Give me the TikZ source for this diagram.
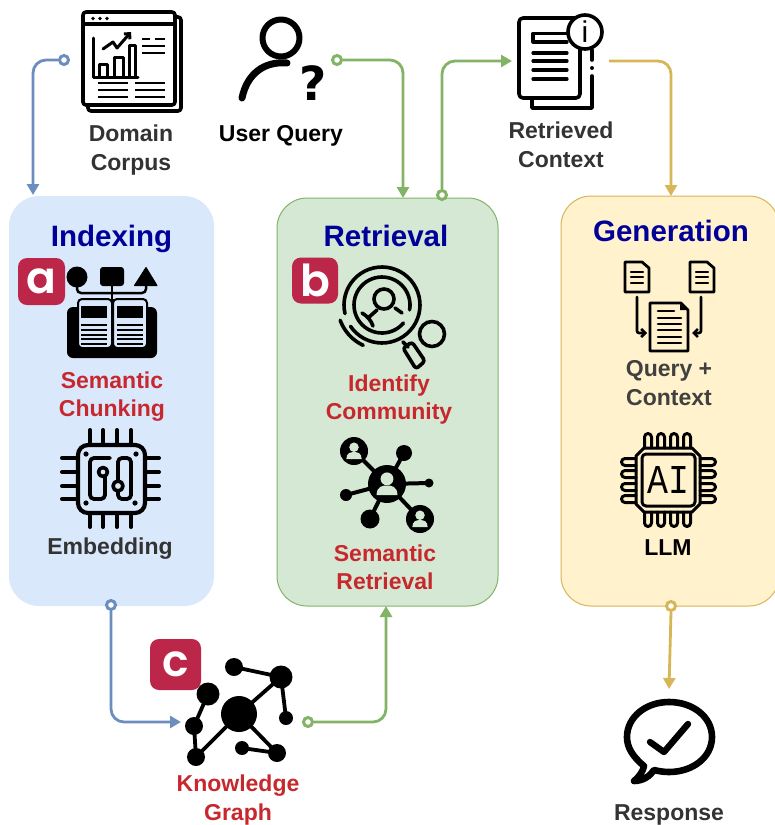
\documentclass[tikz,border=0pt]{standalone}
\usepackage{fontspec}
\setmainfont{Liberation Sans}
\newfontfamily\badgefont{Poppins SemiBold}
\newfontfamily\chipfont{Liberation Mono}
\newfontfamily\markfont{DejaVu Sans}
\usetikzlibrary{arrows.meta,positioning}
\definecolor{indexfill}{HTML}{DAE8FC}
\definecolor{retrfill}{HTML}{D5E8D4}
\definecolor{genfill}{HTML}{FFF2CC}
\definecolor{bluelink}{HTML}{6C8EBF}
\definecolor{greenlink}{HTML}{82B366}
\definecolor{yellowlink}{HTML}{D6B656}
\definecolor{badgered}{HTML}{BB2649}
\definecolor{labelred}{HTML}{C7282E}
\definecolor{titleblue}{HTML}{000099}
\definecolor{labelgray}{HTML}{333333}
\tikzset{
    %Define style for boxes
    panel/.style={
           rectangle,
           rounded corners=30pt,
           inner sep=0pt,
           outer sep=0pt,
           minimum width=#1},
    paneltitle/.style={
           font=\bfseries\fontsize{29.5}{34}\selectfont,
           text=titleblue,
           inner sep=0pt},
    corelabel/.style={
           font=\bfseries\fontsize{23}{28.5}\selectfont,
           text=labelgray,
           align=center,
           inner sep=0pt},
    redlabel/.style={corelabel, text=labelred},
    blacklabel/.style={corelabel, text=black},
    badge/.style={
           rectangle,
           rounded corners=9pt,
           fill=badgered,
           text=white,
           inner sep=0pt,
           minimum size=47pt,
           font=\badgefont\fontsize{44}{44}\selectfont},
    port/.style={
           circle,
           fill=white,
           draw=#1,
           line width=3pt,
           inner sep=0pt,
           minimum size=9pt},
    % Define arrow style
    pil/.style={
           draw=#1,
           line width=2.8pt,
           rounded corners=13pt,
           -{Triangle[width=12pt,length=11pt,fill=#1]}},
    % Define style for icons
    icon/.style={
           draw=black,
           line width=#1,
           line cap=round,
           line join=round},
    icon/.default=3.6pt
}
% an arc with image angles, y pointing down
\newcommand{\ringpath}[5]{plot[domain=#4:#5,samples=50] ({#1+#3*cos(\x)},{#2+#3*sin(\x)})}
% person inside a disc
\newcommand{\discperson}[4]{%
  \fill[black] (#1,#2) circle[radius=#3];
  \fill[#4] (#1,{#2-.27*#3}) circle[radius={.34*#3}];
  \fill[#4] ({#1-.55*#3},{#2+.58*#3}) .. controls ({#1-.55*#3},{#2+.1*#3}) and ({#1-.2*#3},{#2+.08*#3}) .. (#1,{#2+.08*#3})
     .. controls ({#1+.2*#3},{#2+.08*#3}) and ({#1+.55*#3},{#2+.1*#3}) .. ({#1+.55*#3},{#2+.58*#3}) -- cycle;}
% small page with a cut corner
\newcommand{\smallpage}[1]{%
  \draw[icon=2.8pt] (#1,262) -- ({#1+17},262) -- ({#1+24},268) -- ({#1+24},292) -- (#1,292) -- cycle;
  \foreach \yy in {272,277,283} \draw[icon=2.2pt] ({#1+6},\yy) -- ({#1+18},\yy);}
\begin{document}
\begin{tikzpicture}[x=1pt,y=-1pt]
\useasboundingbox (0,0) rectangle (775,825);
\clip (0,0) rectangle (775,825);
 %panels
\node[panel=205pt, minimum height=410pt, fill=indexfill] (indexing) at (111.5,401) {};
\node[panel=221pt, minimum height=408pt, fill=retrfill, draw=greenlink, line width=1pt] (retrieval) at (387.5,402) {};
\node[panel=218pt, minimum height=410pt, fill=genfill, draw=yellowlink, line width=1pt] (generation) at (670,401) {};
\node[paneltitle, below=29pt of indexing.north] (indexingtitle) {Indexing};
\node[paneltitle, below=27pt of retrieval.north, xshift=-1.5pt] (retrievaltitle) {Retrieval};
\node[paneltitle, below=24pt of generation.north, xshift=1pt] (generationtitle) {Generation};
 %badges
\node[badge] (badgea) at (41.5,281.5) {a};
\node[badge, minimum size=46pt] (badgeb) at (315,280.5) {b};
\node[badge, minimum size=51pt] (badgec) at (175.5,664.5) {c};
 %labels
\node[corelabel] (corpuslabel) at (131,150) {Domain\\Corpus};
\node[blacklabel] (querylabel) at (281,136) {User Query};
\node[corelabel] (contextlabel) at (561,145) {Retrieved\\Context};
\node[redlabel] (chunklabel) at (112,396.5) {Semantic\\Chunking};
\node[corelabel] (embedlabel) at (110,549) {Embedding};
\node[redlabel] (communitylabel) at (389,399.5) {Identify\\Community};
\node[redlabel] (semanticlabel) at (385,567.5) {Semantic\\Retrieval};
\node[corelabel, text=black!75] (mergelabel) at (669,383) {Query +\\Context};
\node[blacklabel] (llmlabel) at (668,548) {LLM};
\node[redlabel] (graphlabel) at (238,800) {Knowledge\\Graph};
\node[corelabel] (responselabel) at (669,814.5) {Response};
 %connectors
\node[port=bluelink] (portcorpus) at (64,60) {};
\node[port=greenlink] (portquery) at (337,60) {};
\node[port=greenlink] (portretrieval) at (442,195) {};
\node[port=bluelink] (portindexing) at (111,605) {};
\node[port=greenlink] (portgraph) at (308,722) {};
\node[port=yellowlink] (portgeneration) at (671,606) {};
\coordinate (tipindexing) at (33,195);
\coordinate (tipretrieval) at (403,198);
\coordinate (tipcontext) at (512,61);
\coordinate (startcontext) at (609,61);
\coordinate (tipgeneration) at (671,196);
\coordinate (tipgraph) at (181,722);
\coordinate (tipcommunity) at (386,606);
\coordinate (tipresponse) at (669,689);
\draw[pil=bluelink] (portcorpus.west) -- (tipindexing |- portcorpus) -- (tipindexing);
\draw[pil=greenlink] (portquery.east) -- (tipretrieval |- portquery) -- (tipretrieval);
\draw[pil=greenlink] (portretrieval.north) -- (portretrieval |- tipcontext) -- (tipcontext);
\draw[pil=yellowlink] (startcontext) -- (tipgeneration |- startcontext) -- (tipgeneration);
\draw[pil=bluelink] (portindexing.south) -- (portindexing |- tipgraph) -- (tipgraph);
\draw[pil=greenlink] (portgraph.east) -- (tipcommunity |- portgraph) -- (tipcommunity);
\draw[pil=yellowlink] (portgeneration.south) -- (tipresponse);
 %corpus icon
\draw[icon,rounded corners=3pt,fill=white] (88,17) rectangle (181,111);
\draw[icon,rounded corners=3pt,fill=white] (83,12) rectangle (175,105);
\draw[icon] (83,24) -- (175,24);
\draw[icon=3pt] (93,38) -- (93,77) -- (138,77);
\foreach \xa/\xb/\ya in {99/107/64,114/123/57,129/135/45} \draw[icon=3pt] (\xa,77) -- (\xa,\ya) -- (\xb,\ya) -- (\xb,77);
\draw[icon=3pt,-{Straight Barb[length=4pt]}] (103,49) -- (113,42) -- (117,48) -- (131,32);
\foreach \xx in {93,100,107} \fill (\xx,18.5) circle[radius=1.8];
\foreach \xa/\xb/\ya in {142/150/39,155/165/39,142/165/46,142/165/53,98/128/83,135/165/83,98/128/90,135/165/90,98/128/97,135/165/97}
  \draw[icon=2.6pt,line cap=butt] (\xa,\ya) -- (\xb,\ya);
 %query icon
\draw[icon=6pt] (281,38) circle[radius=18.5];
\draw[icon=7pt] (287,63) .. controls (264,61) and (247,74) .. (242,98);
\node[inner sep=0pt, font=\markfont\bfseries\fontsize{47}{47}\selectfont] (querymark) at (313,83) {?};
 %context icon
\draw[icon] (592,76) -- (592,108) -- (532,108) -- (532,98);
\draw[icon] (592,50) -- (592,60);
\fill (592,68) circle[radius=2];
\draw[icon,rounded corners=4pt] (580,30) -- (580,98) -- (519,98) -- (519,18) -- (580,18);
\draw[icon=3.2pt] (567,33.5) -- (533,33.5) -- (533,42) -- (567,42);
\foreach \yy in {53,61,70,79} \draw[icon=3.2pt] (533,\yy) -- (567,\yy);
\node[circle, draw=black, fill=white, line width=3.6pt, minimum size=34pt, inner sep=0pt, font=\fontsize{30}{30}\selectfont] (infomark) at (585,32) {i};
 %book icon
\fill (77,277) circle[radius=10.5];
\fill[rounded corners=3pt] (100,267) rectangle (124,286);
\draw[icon=1pt,fill=black] (146,267.5) -- (134.5,285.5) -- (157,285.5) -- cycle;
\draw[icon=2.5pt,rounded corners=4pt] (77,285) -- (77,293) -- (146,293) -- (146,285);
\draw[icon=2.5pt] (112,286) -- (112,300);
\fill[rounded corners=6pt] (67,307) rectangle (157,358);
\draw[draw=black,line width=2pt,fill=indexfill,rounded corners=4pt] (78,299) rectangle (112,348);
\draw[draw=black,line width=2pt,fill=indexfill,rounded corners=4pt] (113,299) rectangle (147,348);
\fill (81,306) rectangle (107,318);
\fill (117,306) rectangle (143,318);
\foreach \yy in {325,330,335,339,344} {
  \draw[line width=2pt] (81,\yy) -- (107,\yy);
  \draw[line width=2pt] (117,\yy) -- (143,\yy);}
\draw[line width=2.4pt] (112.5,299) -- (112.5,350);
 %embedding chip
\draw[icon=4.2pt,rounded corners=10pt] (78,445) rectangle (145,513);
\foreach \xx in {90,103,117,131} {
  \draw[icon=4pt] (\xx,430) -- (\xx,445);
  \draw[icon=4pt] (\xx,513) -- (\xx,527);}
\foreach \yy in {458,472,486,499} {
  \draw[icon=4pt] (62,\yy) -- (78,\yy);
  \draw[icon=4pt] (145,\yy) -- (159,\yy);}
\foreach \xx/\yy in {86/454,136/454,86/503,135/503} \fill (\xx,\yy) circle[radius=2.6];
\draw[icon=3.8pt,rounded corners=4pt] (110,458) -- (90,458) -- (90,499) -- (105,499) -- (105,477);
\draw[icon=3.8pt,rounded corners=4pt] (118,481) -- (118,458) -- (131,458) -- (131,499) -- (118,499) -- (118,491);
\draw[icon=3.6pt] (103,472) circle[radius=4.5];
\draw[icon=3.6pt] (118,486) circle[radius=5];
 %community icon
\draw[icon=3.6pt] \ringpath{382}{305}{38}{167}{506};
\draw[icon=3.6pt] \ringpath{382}{305}{28}{10}{-320};
\draw[icon=3.6pt] \ringpath{382}{305}{44.5}{160}{115};
\draw[icon=3.6pt] (384,299) circle[radius=10];
\draw[icon=3.6pt] (377,310) -- (368,318);
\draw[icon=3.6pt] (362,313) .. controls (367,316) and (371,320) .. (373,326);
\draw[icon=3.6pt] (395,308) -- (402,313);
\draw[icon=3.6pt] (403,342) -- (408,347);
\draw[icon=3.6pt,rounded corners=3pt] (403,348) -- (412,342) -- (425,361) -- (416,369) -- cycle;
\draw[icon=3.6pt] (432,334) circle[radius=12.5];
 %retrieval network icon
\draw[icon=4pt] (387,484) -- (354,451);
\draw[icon=4pt] (387,484) -- (404,453);
\draw[icon=4pt] (387,484) -- (429,483);
\draw[icon=4pt] (387,484) -- (346,495);
\draw[icon=4pt] (387,484) -- (370,519);
\draw[icon=4pt] (387,484) -- (420,519);
\discperson{387}{484}{19}{retrfill}
\discperson{354}{451}{14}{retrfill}
\discperson{420}{519}{14}{retrfill}
\fill (404,453) circle[radius=8];
\fill (429,483) circle[radius=4.5];
\fill (346,495) circle[radius=6];
\fill (370,519) circle[radius=9.5];
 %merge icon
\smallpage{625}
\smallpage{690}
\draw[icon=2.8pt] (650,303) -- (681,303) -- (688,310) -- (688,351) -- (650,351) -- cycle;
\fill (680,304) -- (687,310) -- (680,310) -- cycle;
\draw[icon=2.6pt] (658,311) -- (674,311);
\foreach \yy in {318,324,330,337,343} \draw[icon=2.6pt] (658,\yy) -- (681,\yy);
\draw[icon=2.6pt,rounded corners=2pt,-{Straight Barb[length=4pt,width=8pt]}] (637,297) -- (637,333) -- (647,333);
\draw[icon=2.6pt,rounded corners=2pt,-{Straight Barb[length=4pt,width=8pt]}] (701,297) -- (701,333) -- (692,333);
 %llm chip
\draw[icon=3pt] (644,448) -- (692,448) -- (700,456) -- (700,504) -- (692,512) -- (644,512) -- (636,504) -- (636,456) -- cycle;
\draw[icon=3pt,rounded corners=4pt] (642,454) rectangle (695,506);
\foreach \xx in {648,661,674,687} {
  \draw[icon=3pt,rounded corners=3.5pt] ({\xx-3.5},448) -- ({\xx-3.5},433.5) -- ({\xx+3.5},433.5) -- ({\xx+3.5},448);
  \draw[icon=3pt,rounded corners=3.5pt] ({\xx-3.5},512) -- ({\xx-3.5},526.5) -- ({\xx+3.5},526.5) -- ({\xx+3.5},512);}
\foreach \yy in {462,474,487,499} {
  \draw[icon=3pt,rounded corners=3.5pt] (636,{\yy-3.5}) -- (621.5,{\yy-3.5}) -- (621.5,{\yy+3.5}) -- (636,{\yy+3.5});
  \draw[icon=3pt,rounded corners=3.5pt] (700,{\yy-3.5}) -- (715.5,{\yy-3.5}) -- (715.5,{\yy+3.5}) -- (700,{\yy+3.5});}
\node[inner sep=0pt, font=\chipfont\fontsize{41}{41}\selectfont, xscale=.85] (chiptext) at (668.5,480) {AI};
 %graph icon
\foreach \xa/\ya/\xb/\yb in {208/694/194/726,194/726/196/757,196/757/239/714,239/714/281/677,234/667/281/677,281/677/286/718,239/714/277/753,242/748/277/753}
  \draw[icon=3.8pt] (\xa,\ya) -- (\xb,\yb);
\foreach \xx/\yy/\rr in {239/714/18,208/694/11.5,194/726/9,196/757/9,234/667/9,281/677/11.5,286/718/7,242/748/7,277/753/9}
  \fill (\xx,\yy) circle[radius=\rr];
 %response icon
\draw[icon=6.6pt] (644,766) .. controls (632,756) and (627,747) .. (627,737) .. controls (627,717) and (646,702) .. (669,702) .. controls (693,702) and (712,717) .. (712,737) .. controls (712,757) and (693,772) .. (669,772) .. controls (663,772) and (658,771) .. (654,770) .. controls (650,776) and (643,781) .. (634,781) .. controls (640,776) and (643,771) .. (644,766);
\draw[icon=6.4pt] (650,742) -- (664,752) -- (688,724);
\end{tikzpicture}
\end{document}
